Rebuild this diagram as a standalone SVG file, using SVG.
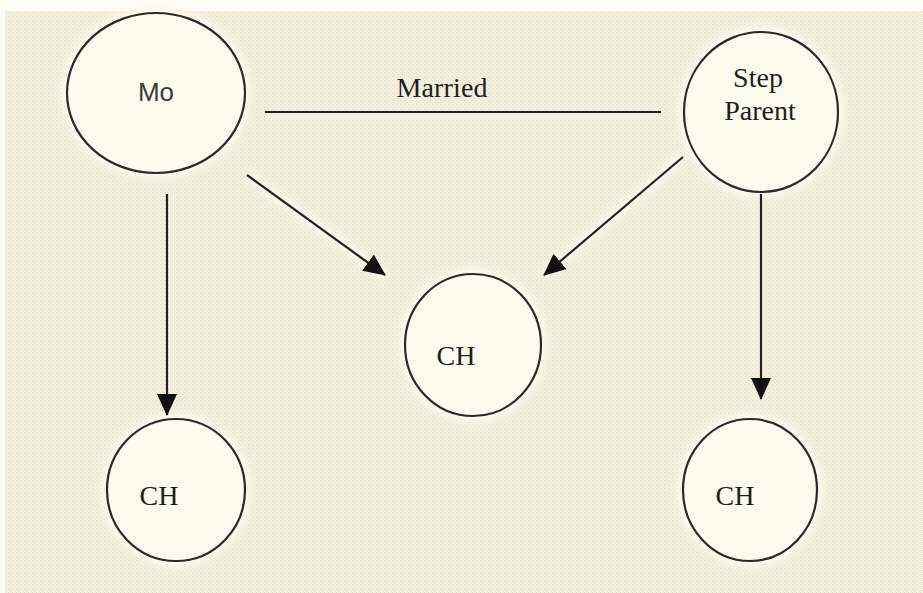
<svg xmlns="http://www.w3.org/2000/svg" width="923" height="593" viewBox="0 0 923 593">
<style>
.node{fill:#fcfbee;stroke:#2a2a2a;stroke-width:2.2}
.halo{fill:none;stroke:#fbf9ea;stroke-width:12;filter:url(#blur)}
.lbl{font-family:"Liberation Serif","Times New Roman",serif;font-size:28px;fill:#1e1e1e;text-anchor:middle}
.sans{font-family:"Liberation Sans",Arial,sans-serif;font-size:26px;fill:#3a3a3a;text-anchor:middle}
.edge{stroke:#222;stroke-width:2.2;fill:none}
.edgehalo{stroke:#fbf9ea;stroke-width:10;fill:none;filter:url(#blur)}
</style>
<defs>
<filter id="blur" x="-20%" y="-20%" width="140%" height="140%"><feGaussianBlur stdDeviation="3"/></filter>
<pattern id="tex" width="4" height="4" patternUnits="userSpaceOnUse">
<rect width="4" height="4" fill="#f3f0de"/>
<rect x="0" y="0" width="1" height="1" fill="#dedac4"/>
<rect x="2" y="2" width="1" height="1" fill="#e2dec9"/>
</pattern>
<marker id="arr" markerUnits="userSpaceOnUse" markerWidth="22" markerHeight="20" refX="21" refY="10" orient="auto">
<path d="M0,0 L22,10 L0,20 z" fill="#111"/>
</marker>
</defs>
<rect width="923" height="593" fill="#fdfdf8"/>
<rect x="5" y="11" width="918" height="582" fill="url(#tex)"/>

<g id="halos">
<ellipse class="halo" cx="156" cy="93" rx="89" ry="80"/>
<ellipse class="halo" cx="761" cy="112" rx="77" ry="80"/>
<ellipse class="halo" cx="473" cy="345" rx="68" ry="71"/>
<ellipse class="halo" cx="176" cy="490" rx="69" ry="71"/>
<ellipse class="halo" cx="750" cy="490" rx="67" ry="71"/>
<line class="edgehalo" x1="265" y1="112" x2="661" y2="112"/>
<line class="edgehalo" x1="247" y1="175" x2="385" y2="275"/>
<line class="edgehalo" x1="683" y1="157" x2="544" y2="275"/>
<line class="edgehalo" x1="167" y1="194" x2="167" y2="415"/>
<line class="edgehalo" x1="761" y1="194" x2="761" y2="399"/>
</g>

<g id="connectors">
<line class="edge" x1="265" y1="112" x2="661" y2="112"/>
<text class="lbl" x="442" y="97" textLength="91">Married</text>
<line class="edge" x1="247" y1="175" x2="385" y2="275" marker-end="url(#arr)"/>
<line class="edge" x1="683" y1="157" x2="544" y2="275" marker-end="url(#arr)"/>
<line class="edge" x1="167" y1="194" x2="167" y2="415" marker-end="url(#arr)"/>
<line class="edge" x1="761" y1="194" x2="761" y2="399" marker-end="url(#arr)"/>
</g>

<g id="mo">
<ellipse class="node" cx="156" cy="93" rx="89" ry="80"/>
<text class="sans" x="156" y="101">Mo</text>
</g>
<g id="stepparent">
<ellipse class="node" cx="761" cy="112" rx="77" ry="80"/>
<text class="lbl" x="758" y="87">Step</text>
<text class="lbl" x="760" y="120">Parent</text>
</g>
<g id="ch-center">
<ellipse class="node" cx="473" cy="345" rx="68" ry="71"/>
<text class="lbl" x="456" y="365">CH</text>
</g>
<g id="ch-left">
<ellipse class="node" cx="176" cy="490" rx="69" ry="71"/>
<text class="lbl" x="159" y="505">CH</text>
</g>
<g id="ch-right">
<ellipse class="node" cx="750" cy="490" rx="67" ry="71"/>
<text class="lbl" x="735" y="505">CH</text>
</g>
</svg>
